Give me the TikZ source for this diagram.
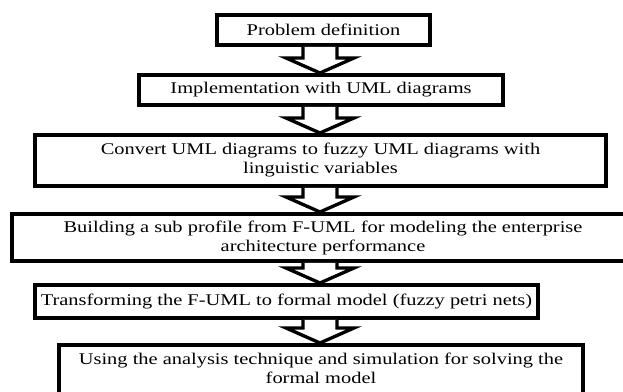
\documentclass[tikz,border=0pt]{standalone}
\usepackage{fontspec}
\setmainfont[FakeStretch=1.25]{Liberation Serif}
\usetikzlibrary{calc}

% hollow block arrow between two boxes
\newcommand{\flowarrow}[2]{%
  \draw[flow] let \p1=(#1.south), \p2=(#2.north) in
    (192pt-10.2pt,\y1) -- (192pt-10.2pt,\y2+9pt) -- (192pt-20.4pt,\y2+9pt) -- (192pt,\y2)
    -- (192pt+20.4pt,\y2+9pt) -- (192pt+10.2pt,\y2+9pt) -- (192pt+10.2pt,\y1);}

\begin{document}
\begin{tikzpicture}[
    x=0.6pt, y=-0.6pt,
    box/.style={
        rectangle,
        draw,
        fill=white,
        line width=2.4pt,
        inner sep=0pt,
        align=center,
        font=\fontsize{9.8}{11.4}\selectfont
    },
    flow/.style={
        draw,
        fill=white,
        line width=2pt,
        line join=miter
    }
]
\useasboundingbox (0,0) rectangle (623,392);

\node[box, minimum width=213*0.6pt, minimum height=30*0.6pt] (problem) at (323.5,30) {Problem definition};

\node[box, minimum width=364*0.6pt, minimum height=30*0.6pt] (uml) at (321,90) {Implementation with UML diagrams};

\node[box, minimum width=571*0.6pt, minimum height=51*0.6pt] (fuzzy) at (320.5,160.5) {Convert UML diagrams to fuzzy UML diagrams with\\linguistic variables};

\node[box, minimum width=622*0.6pt, minimum height=47*0.6pt] (profile) at (323,237.5) {Building a sub profile from F-UML for modeling the enterprise\\architecture performance};

\node[box, minimum width=503*0.6pt, minimum height=33*0.6pt] (petri) at (286.5,301.5) {Transforming the F-UML to formal model (fuzzy petri nets)};

\node[box, minimum width=524*0.6pt, minimum height=55*0.6pt, text depth=5pt] (solve) at (321,372.5) {Using the analysis technique and simulation for solving the\\formal model};

\flowarrow{problem}{uml}
\flowarrow{uml}{fuzzy}
\flowarrow{fuzzy}{profile}
\flowarrow{profile}{petri}
\flowarrow{petri}{solve}

\end{tikzpicture}
\end{document}
